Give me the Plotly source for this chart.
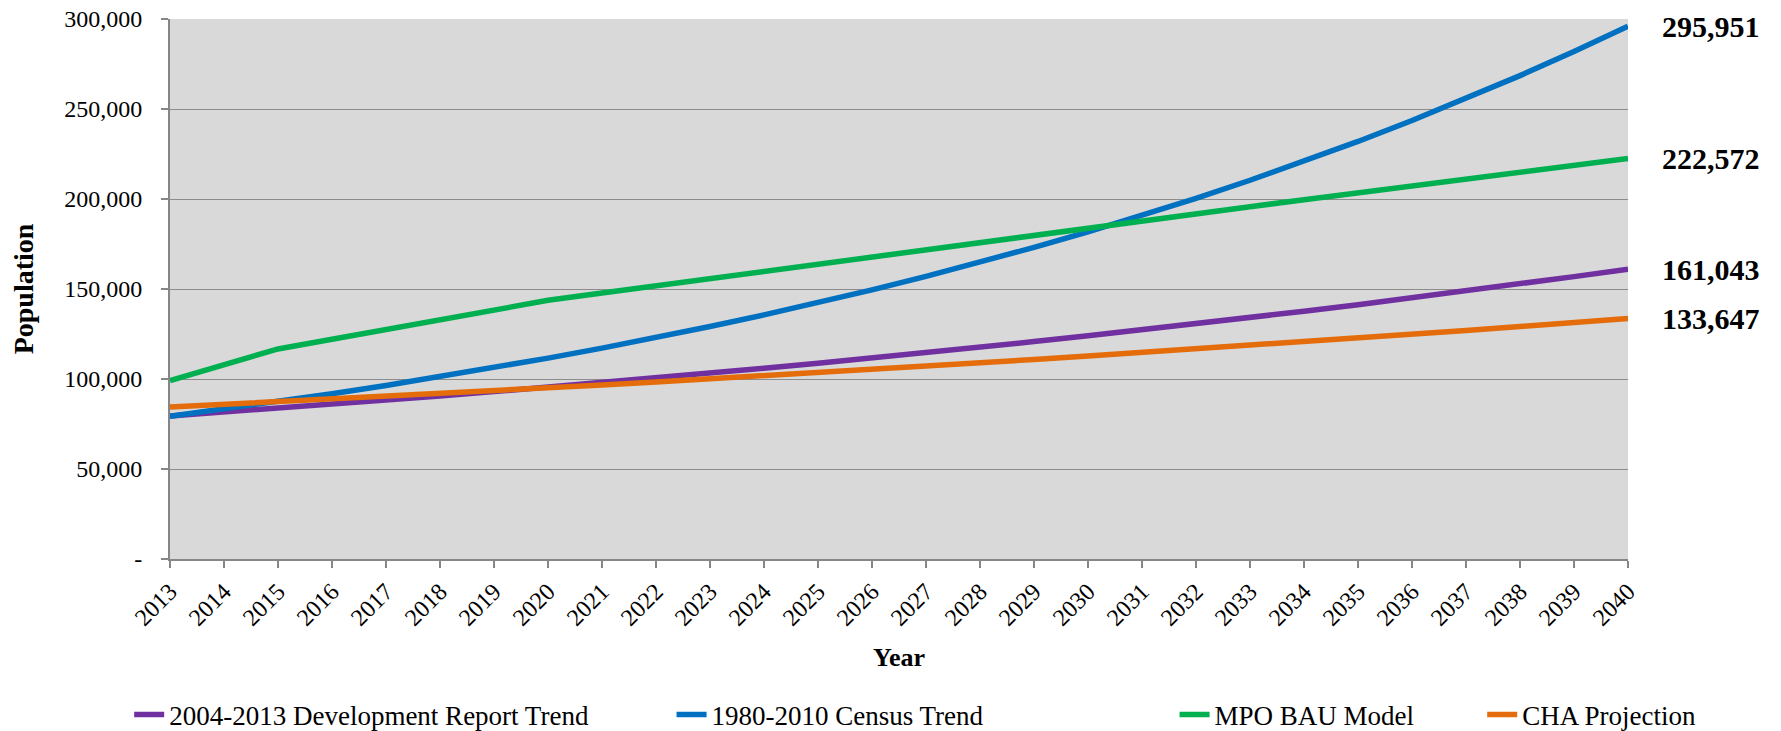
import plotly.graph_objects as go

years = list(range(2013, 2041))
year_labels = [str(y) for y in years]

dev_report_trend = [79477, 81583, 83745, 85964, 88242, 90581, 92981, 95445, 97975, 100571,
                    103236, 105972, 108780, 111663, 114622, 117659, 120777, 123978, 127263,
                    130636, 134098, 137651, 141299, 145043, 148887, 152833, 156883, 161043]
census_trend = [79300, 83265, 87428, 91800, 96390, 101209, 106270, 111583, 117162, 123020,
                129171, 135630, 142411, 149532, 157009, 164859, 173102, 181757, 190845,
                200387, 210407, 220927, 231973, 243572, 255751, 268538, 281965, 295951]
mpo_bau = [99100, 107900, 116700, 122100, 127500, 132900, 138300, 143700, 147750, 151800,
           155850, 159900, 163950, 168000, 172050, 176100, 180150, 184200, 188040, 191880,
           195720, 199560, 203400, 207240, 211080, 214920, 218760, 222572]
cha_projection = [84400, 85849, 87323, 88822, 90347, 91898, 93476, 95081, 96713, 98374,
                  100063, 101781, 103528, 105306, 107114, 108953, 110823, 112726, 114661,
                  116630, 118632, 120669, 122741, 124848, 126992, 129172, 131390, 133647]

series_names = ["2004-2013 Development Report Trend", "1980-2010 Census Trend",
                "MPO BAU Model", "CHA Projection"]
series_values = [dev_report_trend, census_trend, mpo_bau, cha_projection]
series_colors = ["#7030A0", "#0070C0", "#00B050", "#E46C0A"]

y_tick_vals = [0, 50000, 100000, 150000, 200000, 250000, 300000]
y_tick_text = ["-", "50,000", "100,000", "150,000", "200,000", "250,000", "300,000"]

FONT = "Liberation Serif"

legend_ids = ["legend", "legend2", "legend3", "legend4"]
legend_x = [-0.028, 0.344, 0.689, 0.900]

fig = go.Figure()
for name, vals, col, lid in zip(series_names, series_values, series_colors, legend_ids):
    fig.add_trace(go.Scatter(x=years, y=vals, mode="lines", name=name, legend=lid,
                             line=dict(color=col, width=5.5)))

# end-value labels
for vals in series_values:
    fig.add_annotation(x=1, xref="paper", y=vals[-1], yref="y",
                       text="<b>{:,}</b>".format(vals[-1]), showarrow=False,
                       xanchor="left", yanchor="middle", xshift=32,
                       font=dict(family=FONT, size=30, color="black"))

legend_layout = {}
for lid, lx in zip(legend_ids, legend_x):
    legend_layout[lid] = dict(orientation="h", x=lx, xanchor="left", xref="paper",
                              y=0.022, yanchor="middle", yref="container",
                              font=dict(family=FONT, size=27), bgcolor="rgba(0,0,0,0)")

fig.update_layout(
    width=1781, height=731,
    margin=dict(l=170, r=153, t=19, b=172, autoexpand=False),
    paper_bgcolor="white",
    plot_bgcolor="#D9D9D9",
    font=dict(family=FONT, size=24, color="black"),
    showlegend=True,
    xaxis=dict(
        range=[2013, 2040], tickmode="array", tickvals=years, ticktext=year_labels,
        tickangle=-45, showgrid=False, zeroline=False, automargin=False,
        showline=True, linecolor="#868686", linewidth=2,
        ticks="outside", ticklen=7, tickcolor="#868686", tickwidth=1.5,
        ticklabeloverflow="allow",
        tickfont=dict(family=FONT, size=24),
        title=dict(text="<b>Year</b>", font=dict(family=FONT, size=26), standoff=18),
    ),
    yaxis=dict(
        range=[0, 300000], tickmode="array", tickvals=y_tick_vals, ticktext=y_tick_text,
        showgrid=True, gridcolor="#8C8C8C", gridwidth=1.3, zeroline=False, automargin=False,
        showline=True, linecolor="#868686", linewidth=2,
        ticks="outside", ticklen=7, tickcolor="#868686", tickwidth=1.5,
        ticklabelstandoff=14, ticklabeloverflow="allow",
        tickfont=dict(family=FONT, size=24),
        title=dict(text="<b>Population</b>", font=dict(family=FONT, size=28), standoff=22),
    ),
    **legend_layout,
)

fig.write_html("out.html", config={"displayModeBar": False},
               post_script="document.body.style.margin='0px';")
